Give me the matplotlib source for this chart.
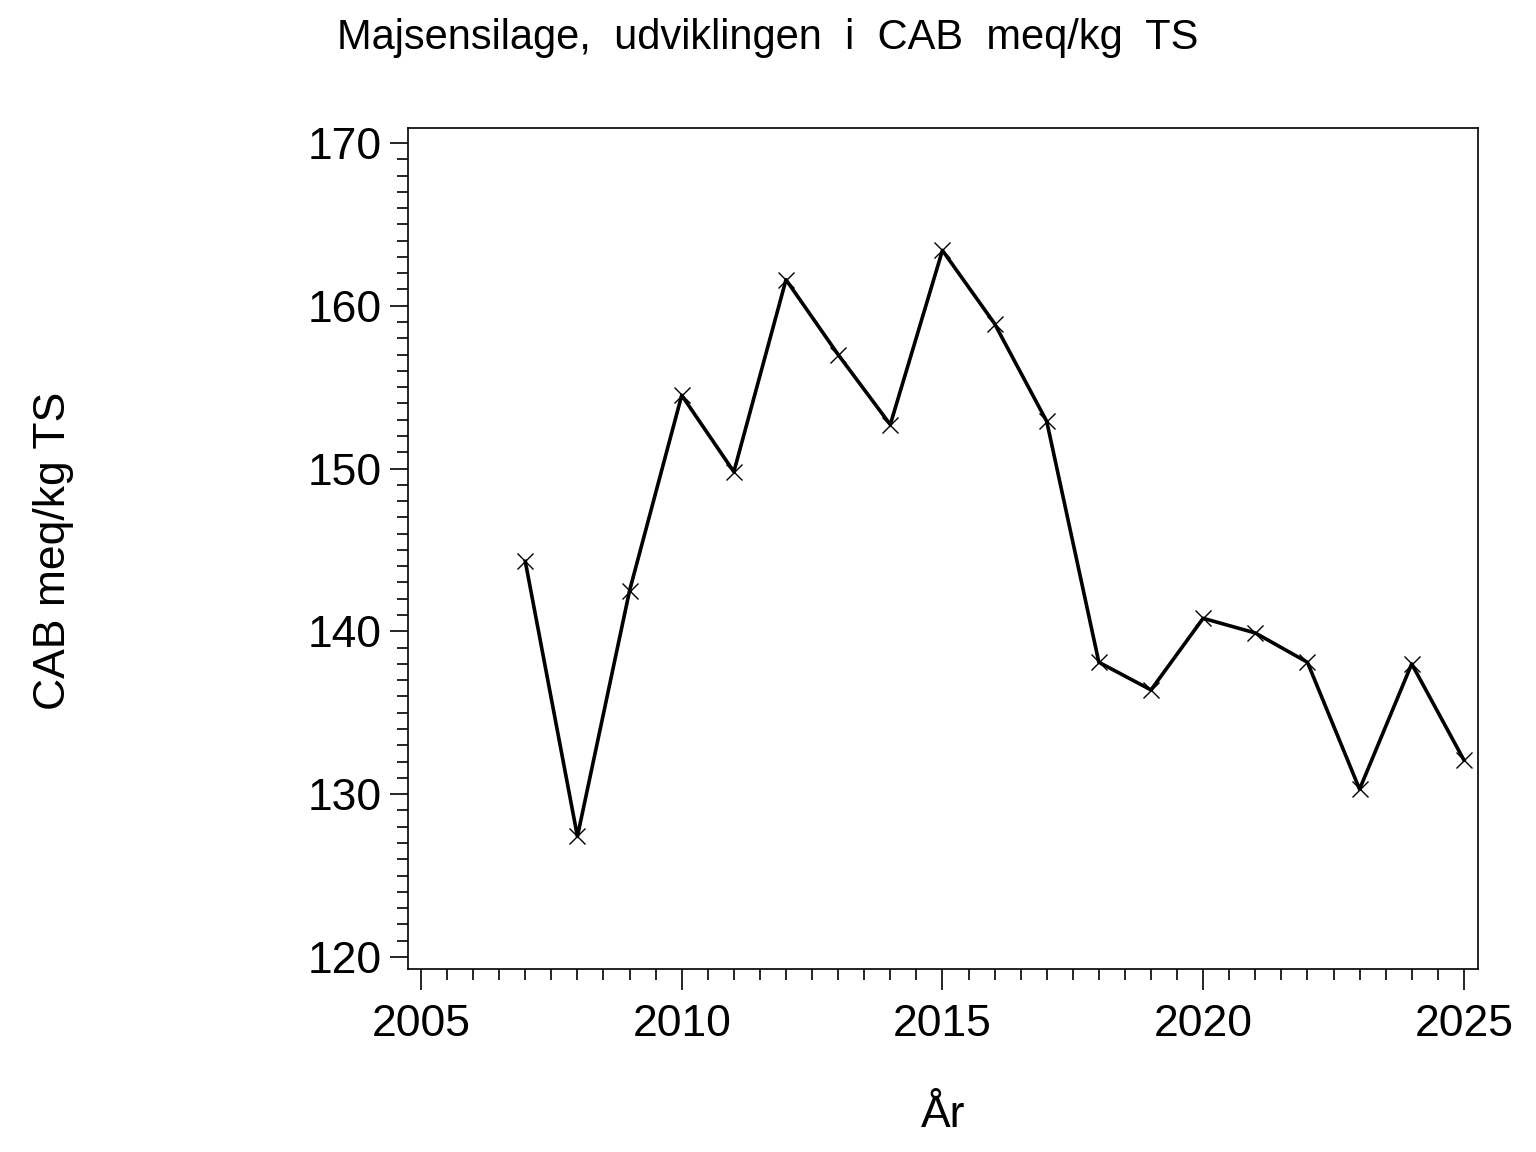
import numpy as np
import matplotlib.pyplot as plt
from matplotlib.ticker import MultipleLocator

plt.rcParams['font.family'] = ['Liberation Sans', 'DejaVu Sans']

years = [2007, 2008, 2009, 2010, 2011, 2012, 2013, 2014, 2015, 2016,
         2017, 2018, 2019, 2020, 2021, 2022, 2023, 2024, 2025]
cab = [144.3, 127.4, 142.5, 154.5, 149.8, 161.6, 157.0, 152.7, 163.4, 158.9,
       152.9, 138.1, 136.4, 140.8, 139.9, 138.1, 130.3, 138.0, 132.1]

fig = plt.figure(figsize=(15.36, 11.52), dpi=100)
ax = fig.add_axes([0.2656, 0.1589, 0.6966, 0.73])

ax.plot(years, cab, color='black', linewidth=2.6, marker='x',
        markersize=12, markeredgewidth=1.0, markerfacecolor='none')

ax.set_xlim(2004.75, 2025.27)
ax.set_ylim(119.26, 170.92)
ax.xaxis.set_major_locator(MultipleLocator(5))
ax.xaxis.set_minor_locator(MultipleLocator(0.5))
ax.yaxis.set_major_locator(MultipleLocator(10))
ax.yaxis.set_minor_locator(MultipleLocator(1))

ax.tick_params(which='major', direction='out', labelsize=32, width=1.2)
ax.tick_params(axis='x', which='major', length=15, pad=10)
ax.tick_params(axis='y', which='major', length=13, pad=6)
ax.tick_params(which='minor', direction='out', length=8, width=1.2)
for s in ax.spines.values():
    s.set_linewidth(1.2)

ax.set_xlabel('År', fontsize=32, labelpad=36)
fig.text(0.035, 0.522, 'CAB meq/kg TS', rotation=90,
         ha='center', va='center', fontsize=32)
fig.text(0.5, 0.967, 'Majsensilage,  udviklingen  i  CAB  meq/kg  TS',
         ha='center', va='center', fontsize=30)

fig.savefig('out.png', dpi=100)
